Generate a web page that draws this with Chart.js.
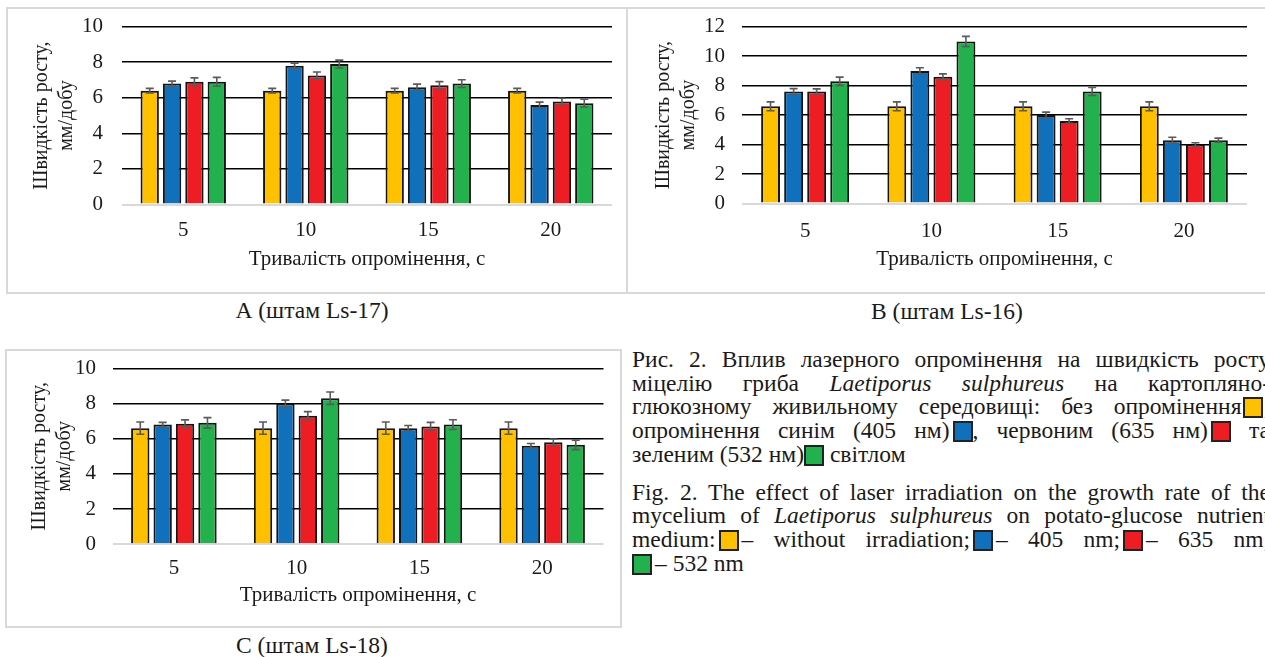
<!DOCTYPE html>
<html>
<head>
<meta charset="utf-8">
<script src="https://cdn.jsdelivr.net/npm/chart.js@4.4.1/dist/chart.umd.min.js"></script>
<style>
  html, body { margin: 0; padding: 0; background: #fff; }
  body { width: 1265px; height: 657px; overflow: hidden; position: relative;
         font-family: 'Liberation Serif', 'Times New Roman', serif; color: #1a1a1a; }
  .box { position: absolute; border: 2px solid #d9d9d9; box-sizing: border-box; }
  canvas { position: absolute; }
  .cap { position: absolute; width: 240px; text-align: center; font-size: 23.5px; line-height: 24px; }
  .txt { position: absolute; left: 632px; top: 348px; width: 638px; font-size: 23.5px; line-height: 23.7px; }
  .txt .j { text-align: justify; text-align-last: justify; }
  .txt .p2 { margin-top: 14px; }
  .sq { display: inline-block; width: 20px; height: 21px; border: 2.5px solid #222; box-sizing: border-box; vertical-align: -4px; }
  i { font-style: italic; }
</style>
</head>
<body>
<div class="box" style="left:6px; top:7px; width:622px; height:287px;"></div>
<div class="box" style="left:626px; top:7px; width:660px; height:287px;"></div>
<div class="box" style="left:5px; top:349px; width:617px; height:279px;"></div>

<canvas id="chartA" width="621" height="286" style="left:6px; top:7px;"></canvas>
<canvas id="chartB" width="637" height="286" style="left:628px; top:7px;"></canvas>
<canvas id="chartC" width="617" height="278" style="left:5px; top:349px;"></canvas>

<div class="cap" style="left:192px; top:298px;">А (штам Ls-17)</div>
<div class="cap" style="left:827px; top:299px;">В (штам Ls-16)</div>
<div class="cap" style="left:192px; top:633px;">С (штам Ls-18)</div>

<div class="txt">
  <div class="j">Рис. 2. Вплив лазерного опромінення на швидкість росту</div>
  <div class="j">міцелію гриба <i>Laetiporus sulphureus</i> на картопляно-</div>
  <div class="j">глюкозному живильному середовищі: без опромінення<span class="sq" style="background:#FFC000; margin-left:2px;"></span>;</div>
  <div class="j">опромінення синім (405 нм)<span class="sq" style="background:#1170BB; margin-left:3px;"></span>, червоним (635 нм)<span class="sq" style="background:#EE1D24; margin-left:3px;"></span> та</div>
  <div>зеленим (532 нм)<span class="sq" style="background:#22B14C;"></span> світлом</div>
  <div class="j p2">Fig. 2. The effect of laser irradiation on the growth rate of the</div>
  <div class="j">mycelium of <i>Laetiporus sulphureus</i> on potato-glucose nutrient</div>
  <div class="j">medium:<span class="sq" style="background:#FFC000; margin:0 3px;"></span>– without irradiation;<span class="sq" style="background:#1170BB; margin:0 3px;"></span>– 405 nm;<span class="sq" style="background:#EE1D24; margin:0 3px;"></span>– 635 nm;</div>
  <div><span class="sq" style="background:#22B14C; margin-right:3px;"></span>– 532 nm</div>
</div>

<script>
const categories = ['5', '10', '15', '20']
const seriesLabels = ['без опромінення', '405 нм', '635 нм', '532 нм']
const seriesColors = ['#FFC000', '#1170BB', '#EE1D24', '#22B14C']

// A (штам Ls-17)
const a0 = [6.4, 6.4, 6.4, 6.4]
const a405 = [6.8, 7.8, 6.6, 5.6]
const a635 = [6.9, 7.25, 6.7, 5.8]
const a532 = [6.9, 7.9, 6.8, 5.7]
const a0Err = [0.13, 0.13, 0.13, 0.13]
const a405Err = [0.14, 0.15, 0.17, 0.16]
const a635Err = [0.22, 0.2, 0.21, 0.18]
const a532Err = [0.25, 0.22, 0.22, 0.22]

// B (штам Ls-16)
const b0 = [6.6, 6.6, 6.6, 6.6]
const b405 = [7.6, 9.0, 6.0, 4.3]
const b635 = [7.6, 8.6, 5.6, 4.0]
const b532 = [8.3, 11.0, 7.6, 4.3]
const b0Err = [0.3, 0.3, 0.3, 0.3]
const b405Err = [0.2, 0.21, 0.2, 0.2]
const b635Err = [0.18, 0.2, 0.15, 0.12]
const b532Err = [0.28, 0.34, 0.27, 0.14]

// C (штам Ls-18)
const c0 = [6.6, 6.6, 6.6, 6.6]
const c405 = [6.8, 8.0, 6.6, 5.6]
const c635 = [6.85, 7.3, 6.7, 5.8]
const c532 = [6.9, 8.3, 6.8, 5.65]
const c0Err = [0.35, 0.35, 0.35, 0.35]
const c405Err = [0.13, 0.19, 0.15, 0.13]
const c635Err = [0.22, 0.24, 0.23, 0.18]
const c532Err = [0.3, 0.35, 0.28, 0.27]

const yTicksA = [0, 10, 2]
const yTicksB = [0, 12, 2]
const yTicksC = [0, 10, 2]

const yTitle = ['Швидкість росту,', 'мм/добу']
const xTitle = 'Тривалість опромінення, с'

Chart.defaults.font.family = "'Liberation Serif', 'Times New Roman', serif"
Chart.defaults.color = '#1a1a1a'

// draws the ± error whiskers on each bar
const errorBars = {
  id: 'errorBars',
  afterDatasetsDraw(chart) {
    const ctx = chart.ctx
    const y = chart.scales.y
    ctx.save()
    ctx.strokeStyle = '#5a5a5a'
    ctx.lineWidth = 1.6
    chart.data.datasets.forEach((ds, i) => {
      chart.getDatasetMeta(i).data.forEach((bar, j) => {
        const top = y.getPixelForValue(ds.data[j] + ds.errors[j])
        const bot = y.getPixelForValue(ds.data[j] - ds.errors[j])
        ctx.beginPath()
        ctx.moveTo(bar.x, top); ctx.lineTo(bar.x, bot)
        ctx.moveTo(bar.x - 4, top); ctx.lineTo(bar.x + 4, top)
        ctx.moveTo(bar.x - 4, bot); ctx.lineTo(bar.x + 4, bot)
        ctx.stroke()
      })
    })
    ctx.restore()
  }
}

function makeChart(id, values, errors, yTicks, lay) {
  new Chart(document.getElementById(id), {
    type: 'bar',
    data: {
      labels: categories,
      datasets: values.map((v, i) => ({
        label: seriesLabels[i],
        data: v,
        errors: errors[i],
        backgroundColor: seriesColors[i],
        borderColor: '#151515',
        borderWidth: 2,
        barPercentage: 0.82,
        categoryPercentage: 0.73
      }))
    },
    options: {
      responsive: false,
      animation: false,
      layout: { padding: { left: 0, right: lay.right, top: lay.top, bottom: 0 } },
      plugins: { legend: { display: false }, tooltip: { enabled: false } },
      scales: {
        x: {
          grid: { display: false },
          border: { display: false },
          ticks: { font: { size: 21 }, padding: lay.xPad },
          title: { display: true, text: xTitle, font: { size: 21, lineHeight: 1.25 }, padding: { top: 0, bottom: lay.xTitlePad } },
          afterFit(scale) { scale.height = lay.xHeight }
        },
        y: {
          min: yTicks[0],
          max: yTicks[1],
          ticks: { stepSize: yTicks[2], font: { size: 21 }, padding: 0 },
          grid: {
            drawTicks: true,
            tickLength: lay.yPad,
            tickColor: 'rgba(0,0,0,0)',
            color: c => c.tick.value === 0 ? '#d9d9d9' : '#000',
            lineWidth: c => c.tick.value === 0 ? 2 : 1.6
          },
          border: { display: false },
          title: { display: true, text: yTitle, font: { size: 20, lineHeight: 1.25 }, padding: { top: lay.yTitlePad, bottom: 0 } },
          afterFit(scale) { scale.width = lay.yWidth }
        }
      }
    },
    plugins: [errorBars]
  })
}

makeChart('chartA', [a0, a405, a635, a532], [a0Err, a405Err, a635Err, a532Err], yTicksA,
  { right: 15, top: 19.7, xHeight: 88.5, yWidth: 116, yPad: 19, xPad: 5.5, xTitlePad: 20, yTitlePad: 23 })
makeChart('chartB', [b0, b405, b635, b532], [b0Err, b405Err, b635Err, b532Err], yTicksB,
  { right: 18, top: 19.7, xHeight: 89.5, yWidth: 114, yPad: 17, xPad: 7, xTitlePad: 20, yTitlePad: 23.5 })
makeChart('chartC', [c0, c405, c635, c532], [c0Err, c405Err, c635Err, c532Err], yTicksC,
  { right: 18.5, top: 19.3, xHeight: 82.7, yWidth: 107.5, yPad: 16.5, xPad: 4, xTitlePad: 18.5, yTitlePad: 22.5 })
</script>
</body>
</html>
